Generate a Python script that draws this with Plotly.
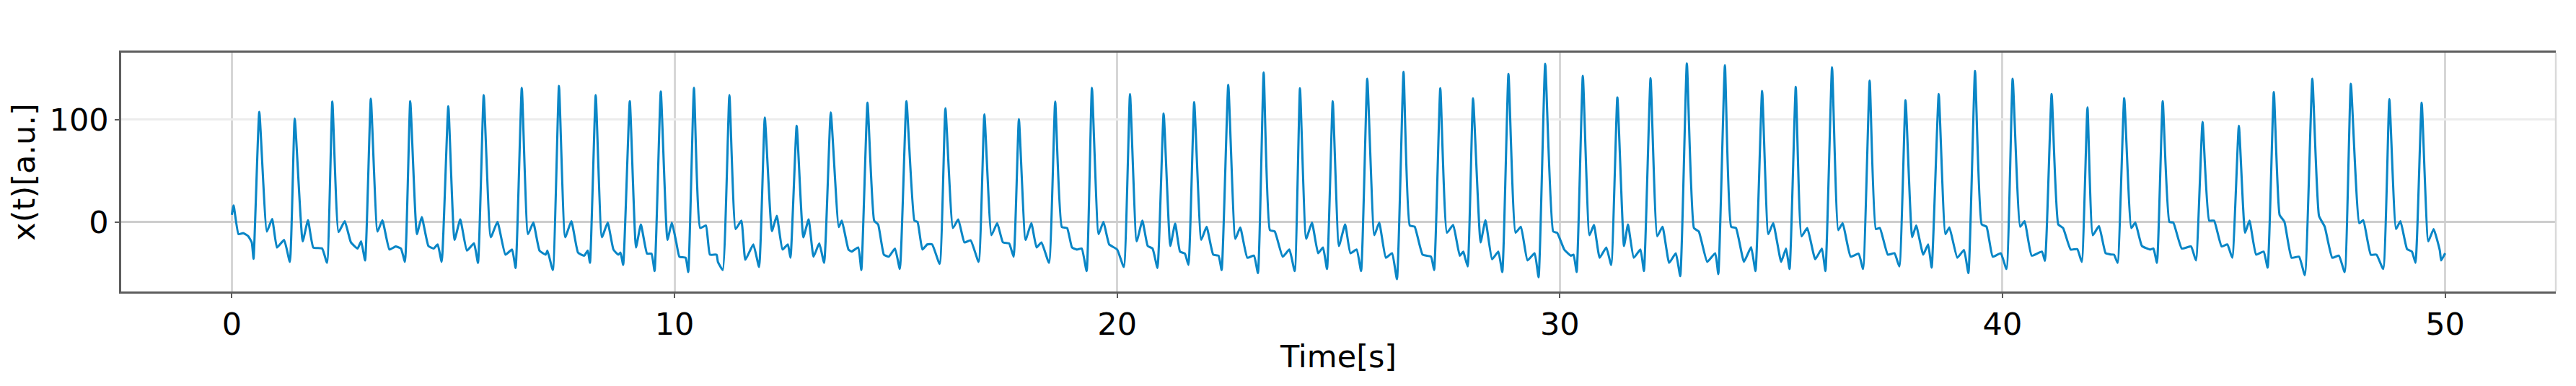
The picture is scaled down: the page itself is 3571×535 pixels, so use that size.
import plotly.graph_objects as go

# Signal vertices (time in s, amplitude in a.u.), one row per beat
time_s = [
    0, 0.04, 0.15, 0.26, 0.37, 0.45, 0.49,
    0.62, 0.79, 0.91, 1.02, 1.18, 1.31,
    1.42, 1.6, 1.72, 1.84, 2.04, 2.15,
    2.27, 2.41, 2.55, 2.69, 2.84, 2.92, 3.01,
    3.14, 3.29, 3.4, 3.56, 3.7, 3.82, 3.91,
    4.03, 4.18, 4.29, 4.44, 4.56, 4.65, 4.74,
    4.89, 5.03, 5.16, 5.31, 5.47, 5.56,
    5.69, 5.85, 6.0, 6.18, 6.33, 6.41,
    6.55, 6.69, 6.81, 6.95, 7.09, 7.13, 7.25,
    7.39, 7.53, 7.67, 7.82, 7.96, 8.04, 8.09,
    8.22, 8.36, 8.49, 8.62, 8.73, 8.78, 8.84,
    8.99, 9.13, 9.24, 9.38, 9.48, 9.55,
    9.69, 9.84, 9.94, 10.04, 10.11, 10.25, 10.31,
    10.44, 10.58, 10.71, 10.8, 10.95, 10.98, 11.09,
    11.24, 11.38, 11.51, 11.6, 11.78, 11.91,
    12.04, 12.2, 12.31, 12.44, 12.56, 12.62,
    12.76, 12.91, 13.03, 13.14, 13.27, 13.38,
    13.53, 13.71, 13.78, 13.93, 14.0, 14.15, 14.22,
    14.36, 14.51, 14.6, 14.73, 14.84, 14.98, 15.09,
    15.24, 15.42, 15.49, 15.6, 15.71, 15.82, 15.99,
    16.12, 16.29, 16.41, 16.55, 16.69, 16.87,
    17.0, 17.16, 17.29, 17.42, 17.56, 17.66,
    17.78, 17.93, 18.06, 18.18, 18.29, 18.46,
    18.6, 18.75, 18.87, 18.98, 19.09, 19.2, 19.31,
    19.43, 19.58, 19.69, 19.82, 20.0, 20.15,
    20.29, 20.44, 20.57, 20.69, 20.8, 20.91,
    21.05, 21.2, 21.31, 21.42, 21.53, 21.61,
    21.74, 21.9, 22.02, 22.17, 22.29, 22.36,
    22.51, 22.67, 22.78, 22.94, 23.09, 23.18,
    23.31, 23.45, 23.56, 23.74, 23.89, 24.01,
    24.13, 24.27, 24.4, 24.54, 24.65, 24.74,
    24.87, 25.01, 25.15, 25.27, 25.41, 25.51,
    25.65, 25.81, 25.92, 26.07, 26.21, 26.32,
    26.47, 26.61, 26.72, 26.9, 27.09, 27.16,
    27.3, 27.45, 27.59, 27.74, 27.82, 27.86, 27.92,
    28.04, 28.21, 28.32, 28.47, 28.61, 28.7,
    28.84, 29.0, 29.12, 29.27, 29.43, 29.52,
    29.67, 29.85, 29.94, 30.1, 30.25, 30.31, 30.38,
    30.52, 30.67, 30.77, 30.9, 31.05, 31.16,
    31.3, 31.45, 31.54, 31.67, 31.82, 31.9,
    32.05, 32.2, 32.32, 32.47, 32.62, 32.72,
    32.87, 33.03, 33.14, 33.33, 33.51, 33.58,
    33.73, 33.87, 33.98, 34.16, 34.32, 34.42,
    34.57, 34.71, 34.82, 35.0, 35.11, 35.19,
    35.33, 35.46, 35.59, 35.77, 35.92, 36.0,
    36.15, 36.29, 36.39, 36.57, 36.75, 36.85,
    37.0, 37.14, 37.23, 37.41, 37.56, 37.67,
    37.81, 37.96, 38.05, 38.21, 38.32, 38.4,
    38.56, 38.71, 38.8, 38.98, 39.13, 39.23,
    39.38, 39.53, 39.64, 39.78, 39.96, 40.09,
    40.23, 40.4, 40.5, 40.66, 40.89, 40.96,
    41.11, 41.26, 41.37, 41.54, 41.69, 41.79,
    41.92, 42.04, 42.18, 42.33, 42.44, 42.52, 42.6,
    42.75, 42.91, 43.0, 43.15, 43.34, 43.41, 43.49,
    43.62, 43.77, 43.86, 44.05, 44.26, 44.37,
    44.52, 44.67, 44.78, 44.95, 45.08, 45.19,
    45.34, 45.48, 45.58, 45.73, 45.9, 45.99,
    46.13, 46.26, 46.37, 46.53, 46.7, 46.83,
    47.0, 47.15, 47.28, 47.45, 47.6, 47.73,
    47.87, 48.06, 48.15, 48.32, 48.45, 48.6,
    48.74, 48.89, 48.99, 49.14, 49.25, 49.33,
    49.47, 49.62, 49.74, 49.88, 49.91, 50.0,
]

signal_au = [
    7, 16, -12, -11, -14, -20, -36,
    107.5, -9.4, 2.8, -25, -17.6, -39,
    101, -19, 1.6, -25, -26, -40,
    117.6, -10, 0.7, -20, -26, -19, -37.6,
    120.5, -9.4, 1.6, -27, -24, -26, -39,
    118, -12, 4.7, -23.5, -26, -22, -39,
    113, -17.6, 2.4, -28, -21, -40,
    124, -15, 0, -32, -27, -45,
    131, -12, -0.7, -28, -32, -28, -47,
    133, -15, 0.7, -30, -33, -28, -40,
    124, -15, -0.7, -27, -32, -30, -42,
    118, -25, -2.4, -31, -31, -48,
    127.5, -17.6, -0.7, -20, -34, -35, -49,
    131, -6, -3.5, -32, -32, -39, -47,
    124, -7, 1.2, -37, -22, -44,
    102, -9, 6, -27, -22, -35,
    94, -15, 2.4, -34, -21, -40,
    107, -5, 1.2, -27, -29, -25, -47,
    116.5, 1.2, -2.4, -32, -34, -26, -46,
    118, 1.2, 0, -27, -22, -22, -41,
    111, -6, 2.4, -20, -18, -39,
    105, -13, -1.2, -20, -21, -34,
    100.5, -17.6, -1.2, -25, -20, -40,
    117.6, -5, -6, -25, -27, -26, -48,
    131, -12, 0, -22, -27, -44,
    125, -19, 1.2, -23.5, -26, -45,
    106, -23.5, -1.6, -29, -31, -42,
    117, -17.6, -4.7, -32, -33, -47,
    134, -16.5, -5.4, -35, -33, -50,
    146, -8, -9.4, -34, -27, -48,
    130.6, -16.5, -0.7, -30.6, -25, -46,
    118, -23.5, -2.4, -30.6, -27, -48,
    140, -13, -0.7, -35, -30.6, -56,
    146.6, -3.5, -4.7, -32, -34, -47,
    130.6, -10.6, -3, -33, -29, -35, -43.5,
    120.7, -20, 1.6, -36.5, -29, -49,
    144.7, -10.6, -4.7, -37.6, -30.6, -54,
    154.6, -9.4, -10.6, -27, -33, -32, -49,
    142.8, -13, -3, -35, -25, -42,
    121.6, -23.5, -2.4, -35, -27, -48,
    140.5, -14, -4.7, -40, -30.6, -53,
    155, -6, -9.4, -39, -30.6, -51,
    153, -4.7, -6, -39, -24.7, -48,
    128, -12, -1.2, -39, -26, -46,
    132, -14, -6, -36.5, -26, -48,
    151, -8, -1.2, -34, -31, -46,
    138, -7, -6, -32, -30.6, -43.5,
    119, -15, -3.5, -32, -22, -44.7,
    125, -12, -5.4, -35, -27.5, -50,
    147.5, -2.4, -4.7, -34, -30.6, -46,
    140, -4.7, 0.7, -33, -29, -38,
    125, -2.4, -6, -27, -26.6, -39,
    112, -13, -4, -30.6, -31.8, -32, -40,
    121, -6, -0.7, -23.5, -27, -26, -40,
    118, 0, -0.7, -26, -24, -37.6,
    97.6, 1.2, 1.2, -24, -22, -35,
    94, -10.6, 1.2, -32, -29, -44.7,
    127, 7, 0, -35, -34, -52,
    140, 6, -4.7, -35, -33, -49,
    135, -1.2, 1.6, -32, -32, -46,
    120, -7, 0.7, -26.6, -29, -40,
    116.5, -19, -7, -28, -37.6, -30.6,
]

x_ticks = [0, 10, 20, 30, 40, 50]
y_ticks = [0, 100]
x_title = "Time[s]"
y_title = "x(t)[a.u.]"

FONT = "DejaVu Sans"
FS = 43

fig = go.Figure()
fig.add_trace(go.Scatter(
    x=time_s, y=signal_au, mode="lines",
    line=dict(color="#0a86c6", width=3.1, shape="spline", smoothing=0.4),
    showlegend=False,
))

# page body has an 8 px margin, so the figure is placed at (8, 8)
fig.update_layout(
    width=3563, height=527,
    margin=dict(l=160, r=28, t=65, b=131),
    paper_bgcolor="white", plot_bgcolor="white",
    font=dict(family=FONT, size=FS, color="black"),
    shapes=[dict(type="line", xref="paper", yref="paper", x0=1, x1=1, y0=0, y1=1,
                 line=dict(color="#d9d9d9", width=2.5), layer="above")],
)
fig.update_xaxes(
    range=[-2.5, 52.5], tickvals=x_ticks,
    showgrid=True, gridcolor="#d6d6d6", gridwidth=2.5,
    zeroline=False,
    showline=True, mirror=True, linecolor="#5e5e5e", linewidth=2.5,
    ticks="outside", ticklen=6, tickwidth=2, tickcolor="#5a5a5a",
    tickfont=dict(family=FONT, size=FS, color="black"),
    title=dict(text=x_title, font=dict(family=FONT, size=FS, color="black"), standoff=6),
)
fig.update_yaxes(
    range=[-68, 165.4], tickvals=y_ticks,
    showgrid=True, gridcolor="#ececec", gridwidth=2.5,
    zeroline=True, zerolinecolor="#cdcdcd", zerolinewidth=2.5,
    showline=True, mirror=False, linecolor="#5e5e5e", linewidth=2.5,
    ticks="outside", ticklen=6, tickwidth=2, tickcolor="#5a5a5a",
    tickfont=dict(family=FONT, size=FS, color="black"),
    title=dict(text=y_title, font=dict(family=FONT, size=FS, color="black"), standoff=10),
)

fig.write_html("out.html")
